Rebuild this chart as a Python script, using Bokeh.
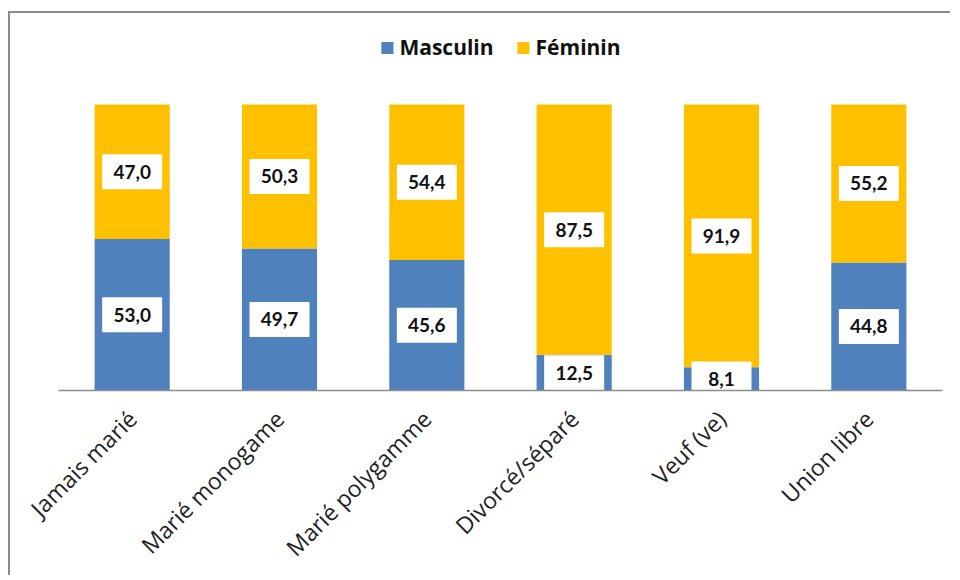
import math
from bokeh.plotting import figure
from bokeh.models import FactorRange, ColumnDataSource, Range1d
from bokeh.core.properties import value
from bokeh.embed import file_html
from bokeh.resources import INLINE

categories = ["Jamais marié", "Marié monogame", "Marié polygamme",
              "Divorcé/séparé", "Veuf (ve)", "Union libre"]
masculin = [53.0, 49.7, 45.6, 12.5, 8.1, 44.8]
feminin = [47.0, 50.3, 54.4, 87.5, 91.9, 55.2]
series = ["Masculin", "Féminin"]
colors = ["#4F81BD", "#FFC000"]

def fmt(v):
    return f"{v:.1f}".replace(".", ",")

src = ColumnDataSource(dict(cat=categories, Masculin=masculin, Féminin=feminin))

p = figure(x_range=FactorRange(factors=categories), y_range=Range1d(0, 128.0),
           width=942, height=564, output_backend="svg", toolbar_location=None,
           min_border_left=48, min_border_right=10, min_border_top=11,
           min_border_bottom=187)
p.styles = {"border-left": "2px solid #8a8a8a", "border-top": "2px solid #8a8a8a",
            "margin-left": "8px", "margin-top": "11px"}

p.vbar_stack(series, x="cat", width=0.51, color=colors, line_color=None,
             source=src, legend_label=series)

# label boxes
m_mid = [v / 2 for v in masculin]
f_mid = [m + f / 2 for m, f in zip(masculin, feminin)]
lab_src = ColumnDataSource(dict(
    x=categories + categories,
    y=m_mid + f_mid,
    t=[fmt(v) for v in masculin] + [fmt(v) for v in feminin],
))
p.rect(x="x", y="y", width=60, height=35, width_units="screen", height_units="screen",
       fill_color="white", line_color=None, source=lab_src)
p.text(x="x", y="y", text="t", source=lab_src, text_align="center",
       text_baseline="middle", text_font=value("Lato"), text_font_style="bold",
       text_font_size="19px", text_color="#111111")

p.yaxis.visible = False
p.xgrid.visible = False
p.ygrid.visible = False
p.outline_line_color = None
p.xaxis.axis_line_color = "#8c8c8c"
p.xaxis.axis_line_width = 1.5
p.xaxis.major_tick_line_color = None
p.xaxis.minor_tick_line_color = None
p.xaxis.major_label_orientation = math.pi / 4
p.xaxis.major_label_text_font = "Open Sans"
p.xaxis.major_label_text_font_size = "23px"
p.xaxis.major_label_text_color = "#222222"
p.xaxis.major_label_standoff = 18
p.x_range.range_padding = 0

lg = p.legend[0]
lg.location = "top_center"
lg.orientation = "horizontal"
lg.border_line_color = None
lg.background_fill_alpha = 0
lg.label_text_font = "Open Sans"
lg.label_text_font_style = "bold"
lg.label_text_font_size = "21px"
lg.label_text_color = "#111111"
lg.glyph_width = 15
lg.glyph_height = 15
lg.label_standoff = 5
lg.spacing = 22
lg.margin = 9
lg.padding = 4

open("out.html", "w").write(file_html(p, INLINE))
